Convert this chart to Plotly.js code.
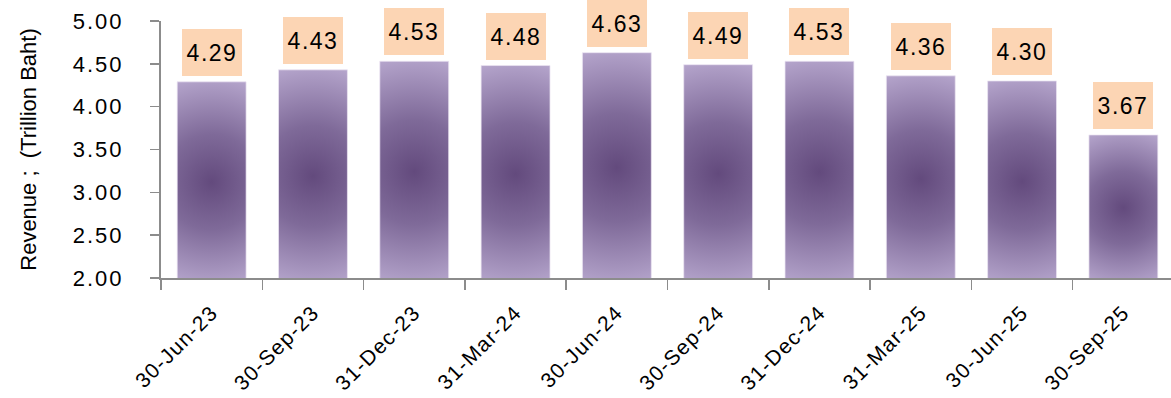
<!DOCTYPE html>
<html>
<head>
<meta charset="utf-8">
<script src="https://cdn.plot.ly/plotly-3.0.1.min.js"></script>
<style>
  html, body { margin: 0; padding: 0; background: #ffffff; }
  #chart { width: 1171px; height: 398px; }
  .ytick text { letter-spacing: 2px; }
  .xtick text { letter-spacing: 1.3px; }
  .annotation-text { letter-spacing: 1.5px; }
</style>
</head>
<body>
<div id="chart"></div>
<script>
// ---- data ----
const categories = ['30-Jun-23', '30-Sep-23', '31-Dec-23', '31-Mar-24', '30-Jun-24',
                    '30-Sep-24', '31-Dec-24', '31-Mar-25', '30-Jun-25', '30-Sep-25'];
const revenue = [4.29, 4.43, 4.53, 4.48, 4.63, 4.49, 4.53, 4.36, 4.30, 3.67];
const yTickValues = [2.0, 2.5, 3.0, 3.5, 4.0, 4.5, 5.0];
const yTickLabels = ['2.00', '2.50', '3.00', '3.50', '4.00', '4.50', '5.00'];
const valueLabels = revenue.map(v => v.toFixed(2));

const FONT = '"Liberation Sans", Arial, Helvetica, sans-serif';
const AXIS_GRAY = '#8c8c8c';

const trace = {
  type: 'bar',
  x: categories,
  y: revenue,
  marker: { color: '#8a76a3', line: { color: 'rgba(235,228,243,0.9)', width: 0.8 } },
  hoverinfo: 'x+y',
  cliponaxis: true
};

const annotations = categories.map((c, i) => ({
  x: c,
  y: revenue[i],
  xref: 'x',
  yref: 'y',
  text: valueLabels[i],
  showarrow: false,
  yanchor: 'bottom',
  xanchor: 'center',
  yshift: 6,
  bgcolor: '#fcd5b4',
  borderpad: 0,
  borderwidth: 0,
  width: 60,
  height: 47,
  valign: 'middle',
  font: { family: FONT, size: 23, color: '#000000' }
}));

const layout = {
  width: 1171,
  height: 398,
  margin: { l: 161, r: 0, t: 21, b: 120, pad: 0 },
  paper_bgcolor: '#ffffff',
  plot_bgcolor: '#ffffff',
  showlegend: false,
  bargap: 0.32,
  font: { family: FONT, color: '#000000' },
  xaxis: {
    type: 'category',
    range: [-0.5, 9.47],
    tickson: 'boundaries',
    ticks: 'outside',
    ticklen: 10,
    tickwidth: 1.5,
    tickcolor: AXIS_GRAY,
    showline: true,
    linecolor: AXIS_GRAY,
    linewidth: 2,
    showgrid: false,
    zeroline: false,
    tickangle: -45,
    ticklabelstandoff: 12,
    tickfont: { family: FONT, size: 21, color: '#000000' },
    automargin: false,
    fixedrange: true
  },
  yaxis: {
    range: [2.0, 5.0],
    tickmode: 'array',
    tickvals: yTickValues,
    ticktext: yTickLabels,
    ticks: 'outside',
    ticklen: 9,
    tickwidth: 1.5,
    tickcolor: AXIS_GRAY,
    showline: true,
    linecolor: AXIS_GRAY,
    linewidth: 2,
    showgrid: false,
    zeroline: false,
    ticklabelstandoff: 22,
    tickfont: { family: FONT, size: 22, color: '#000000' },
    title: { text: 'Revenue ;  (Trillion Baht)', font: { family: FONT, size: 22, color: '#000000' }, standoff: 30 },
    automargin: true,
    fixedrange: true
  },
  annotations: annotations
};

function applyGradients(gd) {
  const svg = gd.querySelector('.main-svg');
  if (!svg) return;
  let defs = svg.querySelector('defs#bar-grad-defs');
  if (!defs) {
    defs = document.createElementNS('http://www.w3.org/2000/svg', 'defs');
    defs.setAttribute('id', 'bar-grad-defs');
    svg.insertBefore(defs, svg.firstChild);
  }
  while (defs.firstChild) defs.removeChild(defs.firstChild);
  const plotH = gd._fullLayout._size.h;
  const paths = gd.querySelectorAll('.barlayer .point path');
  paths.forEach((p, i) => {
    const bb = p.getBBox();
    const top = Math.max(bb.y, 0);
    const bottom = Math.min(bb.y + bb.height, plotH);
    const h = bottom - top;
    const cx = bb.x + bb.width / 2;
    const cy = top + h * 0.51;
    const r = Math.sqrt((bb.width / 2) ** 2 + (h / 2) ** 2) * 1.02;
    const g = document.createElementNS('http://www.w3.org/2000/svg', 'radialGradient');
    g.setAttribute('id', 'barGrad' + i);
    g.setAttribute('gradientUnits', 'userSpaceOnUse');
    g.setAttribute('cx', cx); g.setAttribute('cy', cy);
    g.setAttribute('fx', cx); g.setAttribute('fy', cy);
    g.setAttribute('r', r);
    [['0', '#634a7d'], ['0.45', '#7f6a99'], ['1', '#b5a5cc']].forEach(([o, c]) => {
      const s = document.createElementNS('http://www.w3.org/2000/svg', 'stop');
      s.setAttribute('offset', o);
      s.setAttribute('stop-color', c);
      g.appendChild(s);
    });
    defs.appendChild(g);
    p.style.fill = 'url(#barGrad' + i + ')';
    p.style.fillOpacity = 1;
  });
}

const gd = document.getElementById('chart');
Plotly.newPlot(gd, [trace], layout, { displayModeBar: false, staticPlot: true }).then(() => {
  applyGradients(gd);
  gd.on('plotly_afterplot', () => applyGradients(gd));
});
</script>
</body>
</html>
